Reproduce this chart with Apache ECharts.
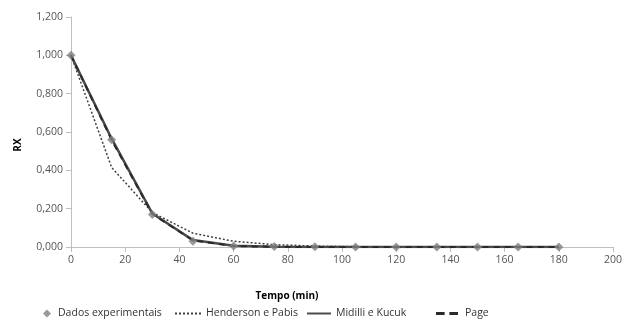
<!DOCTYPE html>
<html>
<head>
<meta charset="utf-8">
<script src="https://cdn.jsdelivr.net/npm/echarts@6/dist/echarts.min.js"></script>
<style>html,body{margin:0;padding:0;background:#fff}#main{width:625px;height:320px}</style>
</head>
<body>
<div id="main"></div>
<script>
// tempo (min)
var tempo = [0, 15, 30, 45, 60, 75, 90, 105, 120, 135, 150, 165, 180];
var dados = [1.000, 0.560, 0.170, 0.030, 0.005, 0.002, 0.001, 0.000, 0.000, 0.000, 0.000, 0.000, 0.000];
var henderson = [1.000, 0.415, 0.180, 0.072, 0.030, 0.012, 0.005, 0.002, 0.001, 0.000, 0.000, 0.000, 0.000];
var midilli = [1.000, 0.565, 0.175, 0.036, 0.006, 0.001, 0.000, 0.000, 0.000, 0.000, 0.000, 0.000, 0.000];
var page = [1.000, 0.558, 0.172, 0.034, 0.005, 0.001, 0.000, 0.000, 0.000, 0.000, 0.000, 0.000, 0.000];

function pares(v) {
  return tempo.map(function (t, i) { return [t, v[i]]; });
}

var fonte = '"Open Sans", "Liberation Sans", sans-serif';
var chart = echarts.init(document.getElementById('main'));

// legendas separadas, cada uma com o seu icone
function leg(nome, left, icon, w, h, pad) {
  return {
    data: [{ name: nome, icon: icon }], left: left, top: 303, itemWidth: w, itemHeight: h,
    textStyle: { fontFamily: fonte, fontSize: 10.5, color: '#333', padding: [0, 0, 0, pad || 0] }
  };
}

chart.setOption({
  animation: false,
  grid: { left: 71, right: 12, top: 17, bottom: 73 },
  legend: [
    leg('Dados experimentais', 38, 'diamond', 8, 8, 2),
    leg('Henderson e Pabis', 170, 'path://M0,0h2v2h-2z M4,0h2v2h-2z M8,0h2v2h-2z M12,0h2v2h-2z M16,0h2v2h-2z M20,0h2v2h-2z M24,0h2v2h-2z', 26, 2),
    leg('Midilli e Kucuk', 302, 'rect', 24, 2),
    leg('Page', 431, 'path://M0,0h9v3h-9z M14,0h9v3h-9z', 22, 3, 2)
  ],
  xAxis: {
    type: 'value', min: 0, max: 200, interval: 20,
    name: 'Tempo (min)', nameLocation: 'middle', nameGap: 44,
    nameTextStyle: { fontFamily: fonte, fontSize: 10, fontWeight: 'bold', color: '#000', padding: [0, 110, 0, 0] },
    axisLine: { lineStyle: { color: '#bfbfbf' } },
    axisTick: { show: true, length: 5, lineStyle: { color: '#bfbfbf' } },
    axisLabel: { fontFamily: fonte, fontSize: 10.5, color: '#555', margin: 8 },
    splitLine: { show: false }
  },
  yAxis: {
    type: 'value', min: 0, max: 1.2, interval: 0.2,
    name: 'RX', nameLocation: 'middle', nameGap: 48,
    nameTextStyle: { fontFamily: fonte, fontSize: 10, fontWeight: 'bold', color: '#000', padding: [0, 26, 0, 0] },
    axisLine: { show: true, lineStyle: { color: '#bfbfbf' } },
    axisTick: { show: true, length: 5, lineStyle: { color: '#bfbfbf' } },
    axisLabel: {
      fontFamily: fonte, fontSize: 10.5, color: '#555', margin: 8,
      formatter: function (v) { return v.toFixed(3).replace('.', ','); }
    },
    splitLine: { show: false }
  },
  series: [
    {
      name: 'Henderson e Pabis', type: 'line', data: pares(henderson),
      symbol: 'none', z: 2,
      lineStyle: { color: '#404040', width: 1.5, type: [2, 2] },
      itemStyle: { color: '#404040' }
    },
    {
      name: 'Midilli e Kucuk', type: 'line', data: pares(midilli),
      symbol: 'none', z: 3,
      lineStyle: { color: '#4a4a4a', width: 2.5 },
      itemStyle: { color: '#4a4a4a' }
    },
    {
      name: 'Page', type: 'line', data: pares(page),
      symbol: 'none', z: 4,
      lineStyle: { color: '#2a2a2a', width: 2, type: [6, 5] },
      itemStyle: { color: '#2a2a2a' }
    },
    {
      name: 'Dados experimentais', type: 'scatter', data: pares(dados),
      symbol: 'diamond', symbolSize: 9, z: 5,
      itemStyle: { color: '#7f7f7f' }
    }
  ]
});
</script>
</body>
</html>
